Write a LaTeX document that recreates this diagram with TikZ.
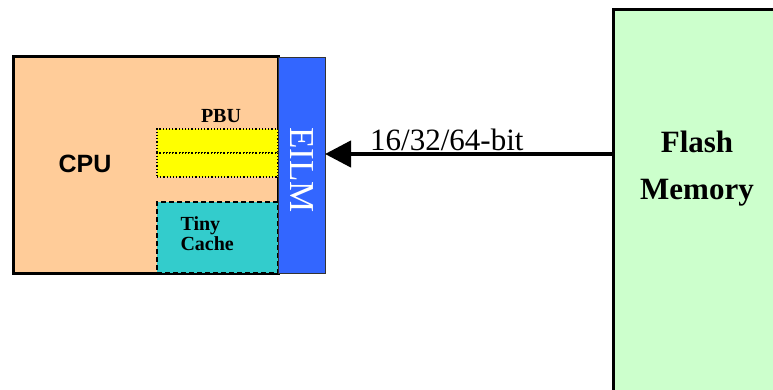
\documentclass[tikz,border=0pt]{standalone}
\usepackage{fontspec}
\setmainfont{Liberation Serif}
\newfontfamily\arialfont{Liberation Sans}
\usetikzlibrary{arrows.meta}

\definecolor{cpuorange}{HTML}{FFCC99}
\definecolor{eilmblue}{HTML}{3366FF}
\definecolor{pbuyellow}{HTML}{FFFF00}
\definecolor{cacheteal}{HTML}{33CCCC}
\definecolor{flashgreen}{HTML}{CCFFCC}

\tikzset{
  block/.style={anchor=north west, inner sep=0pt, outer sep=0pt},
  cpubox/.style={block, fill=cpuorange, draw=black, line width=3pt},
  eilmbox/.style={block, fill=eilmblue, draw=black!80, line width=0.8pt},
  pbuslot/.style={block, fill=pbuyellow, draw=black, line width=1.2pt, dotted},
  cachebox/.style={block, fill=cacheteal, draw=black, line width=1.2pt, dash pattern=on 5pt off 3pt},
  flashbox/.style={block, fill=flashgreen, draw=black, line width=3pt},
  bus/.style={line width=4.3pt, -{Triangle[length=26pt,width=26pt]}},
}

\begin{document}
\begin{tikzpicture}[x=1pt,y=-1pt]
  \clip (0,0) rectangle (773,390);
  \useasboundingbox (0,0) rectangle (773,390);

  % CPU core with its prefetch buffer and tiny cache
  \node[cpubox, minimum width=265pt, minimum height=216pt] (cpu) at (13,57) {};
  \node[font=\arialfont\bfseries\fontsize{25}{30}\selectfont] (cpulabel) at (85,164) {CPU};

  \node[pbuslot, minimum width=121pt, minimum height=24pt] (pbu1) at (157,129) {};
  \node[pbuslot, minimum width=121pt, minimum height=24pt] (pbu2) at (157,153) {};
  \node[font=\bfseries\fontsize{20}{24}\selectfont] (pbulabel) at (221,116) {PBU};

  \node[cachebox, minimum width=121pt, minimum height=71pt] (cache) at (157,202) {};
  \node[font=\bfseries\fontsize{20}{20}\selectfont, align=left, anchor=west]
    (cachelabel) at (177,234) {Tiny\\Cache};

  % EILM interface strip
  \node[eilmbox, minimum width=47pt, minimum height=216pt] (eilm) at (278,57) {};
  \node[font=\fontsize{35}{38}\selectfont, text=white, rotate=-90] (eilmlabel) at (302,170) {EILM};

  % Flash memory
  \node[flashbox, minimum width=200pt, minimum height=420pt] (flash) at (613,10) {};
  \node[font=\bfseries\fontsize{31}{47}\selectfont, align=center] (flashlabel) at (697,169) {Flash\\Memory};

  % Bus from flash to EILM
  \coordinate (busstart) at (flash.west |- 0,154);
  \coordinate (busend) at (eilm.east |- 0,154);
  \draw[bus] (busstart) -- (busend);
  \node[font=\fontsize{31}{36}\selectfont, anchor=base west, inner sep=0pt] (buslabel) at (370,151) {16/32/64-bit};
\end{tikzpicture}
\end{document}
